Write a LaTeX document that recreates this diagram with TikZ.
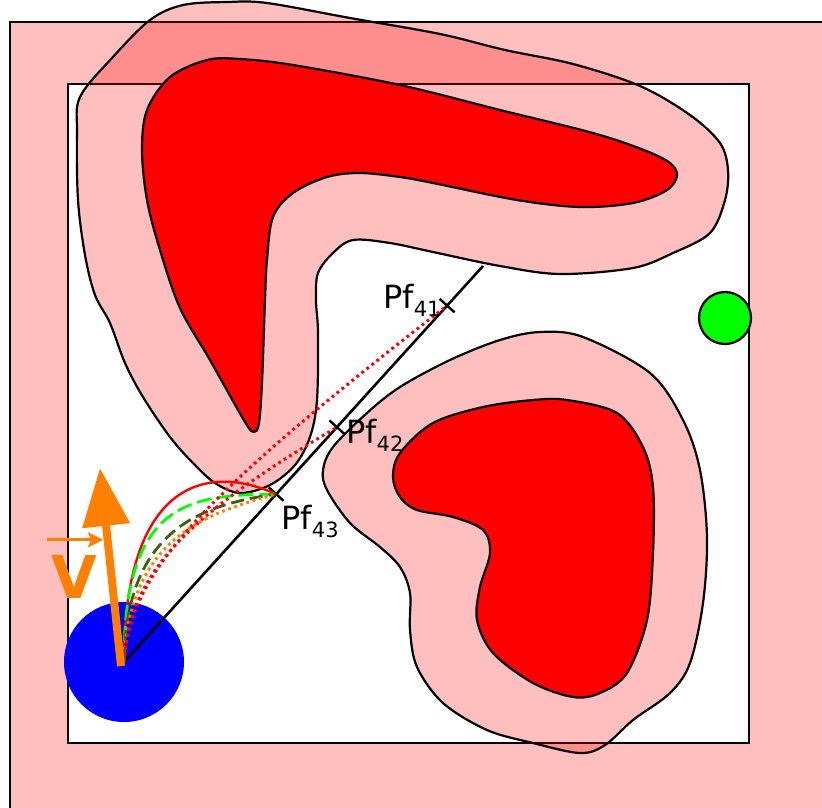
\documentclass[tikz,border=0pt]{standalone}
\usepackage{fontspec}
\setmainfont{DejaVu Sans}
\usetikzlibrary{arrows.meta, positioning, calc}
\definecolor{obsred}{RGB}{255,0,0}
\definecolor{goalgreen}{RGB}{0,255,0}
\definecolor{robblue}{RGB}{0,0,255}
\definecolor{velorange}{RGB}{255,127,0}
\definecolor{olivegreen}{RGB}{60,95,20}

\begin{document}
\begin{tikzpicture}[x=1pt, y=-1pt,
    zone/.style={fill=red, fill opacity=0.25, draw=black, line width=2.2pt},
    core/.style={fill=obsred, draw=black, line width=2.2pt},
    pfmark/.style={line width=2.4pt},
    lbl/.style={font=\fontsize{32}{36}\selectfont, inner sep=0, anchor=base west},
    trajsolid/.style={obsred, line width=2.4pt},
    trajgreen/.style={goalgreen, line width=2.8pt, dash pattern=on 15pt off 6pt},
    trajolive/.style={olivegreen, line width=2.8pt, dash pattern=on 13pt off 6pt},
    trajdot/.style={line width=3pt, dash pattern=on 2.8pt off 3.6pt}
  ]
    \useasboundingbox (0,0) rectangle (822,807);
    \clip (0,0) rectangle (822,807);
    % workspace frame
    \fill[red, fill opacity=0.25, even odd rule] (10,22) rectangle (840,830) (68,84) rectangle (749,743);
    \draw[line width=2.6pt] (10,830) -- (10,22) -- (840,22);
    \draw[line width=2.2pt] (68,84) rectangle (749,743);
    % obstacles
    \draw[zone] plot[smooth cycle, tension=0.55] coordinates {
      (150,20) (183,5) (227,2) (267,3) (350,18) (440,34) (505,50) (573,64)
      (640,86) (690,115) (720,143) (728,170) (725,200) (710,233) (673,253)
      (633,268) (560,274) (500,266) (433,252) (390,243) (353,240) (333,253)
      (318,273) (316,300) (318,333) (317,400) (310,437) (295,465) (270,485)
      (240,493) (215,483) (193,463) (170,437) (143,397) (125,363) (110,323)
      (95,295) (85,255) (78,200) (77,133) (80,97) (112,58)};
    \draw[core] plot[smooth cycle, tension=0.55] coordinates {
      (147,110) (170,77) (207,60) (240,59) (293,65) (400,85) (500,110)
      (600,135) (660,157) (677,173) (667,190) (633,203) (580,207) (517,200)
      (433,183) (400,177) (360,173) (327,177) (293,193) (273,217) (267,260)
      (265,300) (262,383) (259,423) (254,432) (245,422) (210,360) (180,308)
      (160,250) (147,200) (142,150)};
    \draw[zone] plot[smooth cycle, tension=0.55] coordinates {
      (323,470) (333,447) (367,413) (400,387) (450,360) (500,340) (540,332)
      (583,337) (650,373) (683,420) (700,470) (707,537) (703,603) (690,663)
      (670,693) (633,720) (605,745) (580,753) (533,743) (487,730) (443,703)
      (417,667) (410,630) (410,593) (400,567) (380,547) (350,523) (327,490)};
    \draw[core] plot[smooth cycle, tension=0.55] coordinates {
      (393,477) (400,453) (433,423) (483,407) (533,400) (567,400) (617,413)
      (643,447) (653,487) (653,553) (647,620) (627,673) (600,693) (573,697)
      (533,683) (493,653) (477,620) (480,587) (490,553) (483,530) (453,517)
      (417,510) (400,497)};
    % goal and robot
    \node[circle, fill=goalgreen, draw=black, line width=2.2pt, minimum size=52pt, inner sep=0] (goal) at (725,318) {};
    \node[circle, fill=robblue, minimum size=120pt, inner sep=0] (robot) at (124,662) {};
    % line of sight and path points
    \coordinate (lend) at (483,266);
    \draw[line width=2.6pt] (robot.center) -- (lend);
    \coordinate (p41) at ($(robot.center)!0.90!(lend)$);
    \coordinate (p42) at ($(robot.center)!0.593!(lend)$);
    \coordinate (p43) at ($(robot.center)!0.424!(lend)$);
    \foreach \p in {p41,p42,p43}
      \draw[pfmark] ($(\p)!10pt!90:(lend)$) -- ($(\p)!10pt!-90:(lend)$);
    % candidate trajectories
    \draw[trajsolid] (robot.center) .. controls (124,490) and (200,460) .. (p43);
    \draw[trajgreen] (robot.center) .. controls (124,500) and (190,495) .. (p43);
    \draw[trajolive] (robot.center) .. controls (126,530) and (200,505) .. (p43);
    \draw[trajdot, velorange] (robot.center) .. controls (130,540) and (200,515) .. (p43);
    \draw[trajdot, obsred] (robot.center) .. controls (130,575) and (180,520) .. (p42);
    \draw[trajdot, obsred] (robot.center) .. controls (130,575) and (190,505) .. (p41);
    % velocity
    \coordinate (vbase) at ($(robot.center)+(-3,4)$);
    \coordinate (vtip) at (100,468);
    \draw[velorange, line width=8pt, -{Triangle[length=58pt, width=46pt]}] (vbase) -- (vtip);
    \node[inner sep=0, anchor=base west, text=velorange, font=\fontsize{59}{60}\selectfont\bfseries] (vel) at (51,598) {V};
    \draw[velorange, line width=3pt, -{Stealth[length=15pt, width=15pt, inset=3pt]}]
      ($(vel.north west)+(-4,-15)$) -- ($(vel.north east)+(6,-15)$);
    % labels
    \node[lbl] (l41) at ($(p41)+(-64,3)$) {Pf\raisebox{-8pt}{\fontsize{21}{24}\selectfont 41}};
    \node[lbl] (l42) at ($(p42)+(9,16)$) {Pf\raisebox{-8pt}{\fontsize{21}{24}\selectfont 42}};
    \node[lbl] (l43) at ($(p43)+(5,35)$) {Pf\raisebox{-8pt}{\fontsize{21}{24}\selectfont 43}};
  \end{tikzpicture}
\end{document}
